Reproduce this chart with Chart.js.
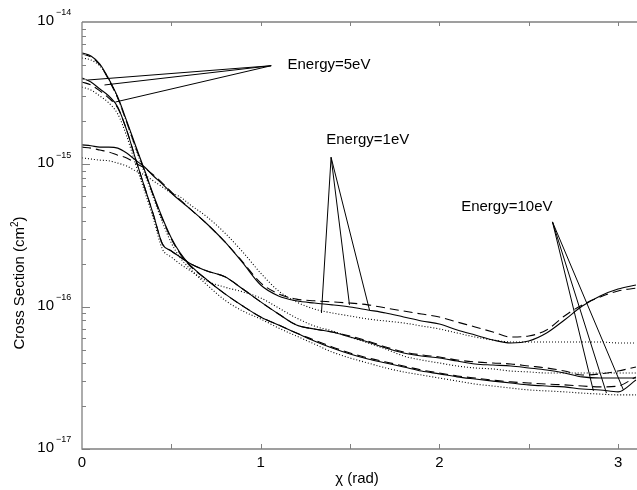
<!DOCTYPE html>
<html><head><meta charset="utf-8">
<script src="https://cdn.jsdelivr.net/npm/chart.js@4.4.1/dist/chart.umd.min.js"></script>
<style>html,body{margin:0;padding:0;background:#fff;}#wrap{width:637px;height:490px;}</style>
</head><body><div id="wrap"><canvas id="c" width="637" height="490"></canvas></div>
<script>
// scattering angle chi (rad)
const chi = [0,0.05,0.1,0.15,0.2,0.25,0.3,0.35,0.4,0.45,0.5,0.55,0.6,0.7,0.8,0.9,1.0,1.1,1.2,1.3,1.4,1.5,1.6,1.7,1.8,1.9,2.0,2.1,2.2,2.3,2.4,2.5,2.6,2.7,2.8,2.9,3.0,3.1];

// Energy = 1 eV
const e1Solid  = [1.37e-15,1.35e-15,1.32e-15,1.32e-15,1.30e-15,1.20e-15,1.07e-15,9.58e-16,8.28e-16,7.27e-16,6.29e-16,5.53e-16,4.93e-16,3.81e-16,2.85e-16,2.03e-16,1.42e-16,1.19e-16,1.10e-16,1.06e-16,1.03e-16,9.95e-17,9.48e-17,9.03e-17,8.46e-17,7.93e-17,7.56e-17,6.86e-17,6.32e-17,5.83e-17,5.56e-17,5.74e-17,6.53e-17,8.06e-17,1.01e-16,1.19e-16,1.33e-16,1.42e-16];
const e1Dashed = [1.32e-15,1.30e-15,1.26e-15,1.22e-15,1.16e-15,1.11e-15,1.02e-15,9.42e-16,8.41e-16,7.39e-16,6.39e-16,5.62e-16,4.93e-16,3.81e-16,2.85e-16,2.06e-16,1.47e-16,1.23e-16,1.13e-16,1.10e-16,1.08e-16,1.06e-16,1.03e-16,9.79e-17,9.32e-17,8.88e-17,8.46e-17,7.80e-17,7.20e-17,6.64e-17,6.12e-17,6.22e-17,6.86e-17,8.60e-17,1.03e-16,1.17e-16,1.29e-16,1.35e-16];
const e1Dotted = [1.11e-15,1.09e-15,1.07e-15,1.06e-15,1.02e-15,9.73e-16,8.98e-16,8.41e-16,7.64e-16,6.93e-16,6.29e-16,5.90e-16,5.26e-16,4.27e-16,3.29e-16,2.42e-16,1.72e-16,1.29e-16,1.08e-16,9.63e-17,9.03e-17,8.60e-17,8.19e-17,7.93e-17,7.68e-17,7.32e-17,6.97e-17,6.53e-17,6.12e-17,5.83e-17,5.65e-17,5.65e-17,5.65e-17,5.65e-17,5.65e-17,5.65e-17,5.56e-17,5.56e-17];

// Energy = 5 eV
const e5Solid  = [4.04e-15,3.79e-15,3.38e-15,3.02e-15,2.53e-15,1.74e-15,1.09e-15,6.93e-16,4.41e-16,2.76e-16,2.46e-16,2.23e-16,2.03e-16,1.78e-16,1.62e-16,1.33e-16,1.08e-16,8.88e-17,7.43e-17,6.97e-17,6.64e-17,6.12e-17,5.65e-17,5.12e-17,4.73e-17,4.50e-17,4.36e-17,4.15e-17,3.96e-17,3.89e-17,3.83e-17,3.71e-17,3.59e-17,3.42e-17,3.21e-17,3.15e-17,3.15e-17,3.15e-17];
const e5Dashed = [3.79e-15,3.61e-15,3.28e-15,2.92e-15,2.49e-15,1.74e-15,1.09e-15,6.93e-16,4.41e-16,2.76e-16,2.46e-16,2.23e-16,2.03e-16,1.78e-16,1.62e-16,1.33e-16,1.08e-16,8.88e-17,7.43e-17,6.97e-17,6.64e-17,6.22e-17,5.74e-17,5.21e-17,4.80e-17,4.58e-17,4.43e-17,4.22e-17,4.09e-17,4.02e-17,3.96e-17,3.83e-17,3.71e-17,3.53e-17,3.31e-17,3.37e-17,3.53e-17,3.77e-17];
const e5Dotted = [3.49e-15,3.33e-15,3.02e-15,2.70e-15,2.26e-15,1.58e-15,1.00e-15,6.50e-16,4.13e-16,2.54e-16,2.23e-16,1.99e-16,1.81e-16,1.51e-16,1.37e-16,1.27e-16,1.15e-16,9.79e-17,8.33e-17,7.32e-17,6.75e-17,6.12e-17,5.56e-17,5.04e-17,4.50e-17,4.22e-17,4.02e-17,3.83e-17,3.71e-17,3.65e-17,3.53e-17,3.48e-17,3.42e-17,3.42e-17,3.42e-17,3.42e-17,3.42e-17,3.42e-17];

// Energy = 10 eV
const e10Solid  = [6.06e-15,5.77e-15,5.07e-15,3.98e-15,2.97e-15,2.02e-15,1.35e-15,9.12e-16,6.09e-16,4.20e-16,3.04e-16,2.38e-16,1.99e-16,1.54e-16,1.23e-16,1.01e-16,8.46e-17,7.43e-17,6.53e-17,5.74e-17,5.12e-17,4.65e-17,4.29e-17,4.02e-17,3.77e-17,3.53e-17,3.37e-17,3.21e-17,3.10e-17,3.00e-17,2.91e-17,2.82e-17,2.77e-17,2.73e-17,2.64e-17,2.60e-17,2.52e-17,3.05e-17];
const e10Dashed = [5.96e-15,5.68e-15,4.99e-15,3.91e-15,2.92e-15,1.98e-15,1.32e-15,8.98e-16,5.99e-16,4.13e-16,2.99e-16,2.34e-16,1.96e-16,1.54e-16,1.23e-16,1.01e-16,8.46e-17,7.43e-17,6.53e-17,5.83e-17,5.21e-17,4.73e-17,4.36e-17,4.09e-17,3.83e-17,3.59e-17,3.42e-17,3.26e-17,3.15e-17,3.05e-17,2.96e-17,2.91e-17,2.86e-17,2.82e-17,2.77e-17,2.73e-17,2.77e-17,3.21e-17];
const e10Dotted = [5.59e-15,5.41e-15,4.91e-15,3.98e-15,2.92e-15,1.98e-15,1.30e-15,8.69e-16,5.80e-16,3.93e-16,2.80e-16,2.20e-16,1.87e-16,1.42e-16,1.11e-16,9.32e-17,8.19e-17,7.08e-17,6.22e-17,5.47e-17,4.80e-17,4.36e-17,4.02e-17,3.71e-17,3.48e-17,3.31e-17,3.15e-17,3.00e-17,2.86e-17,2.77e-17,2.68e-17,2.60e-17,2.56e-17,2.52e-17,2.47e-17,2.43e-17,2.40e-17,2.40e-17];

// annotation pointers (data coordinates)
const annLabels = ['Energy=5eV','Energy=1eV','Energy=10eV'];
const annTipX = [1.059, 1.394, 2.633];
const annTipY = [4.93e-15, 1.12e-15, 3.94e-16];
const annEndX = [[0.031,0.126,0.187],[1.340,1.497,1.609],[2.862,2.935,3.030]];
const annEndY = [[3.91e-15,3.61e-15,2.74e-15],[9.03e-17,1.03e-16,9.47e-17],[2.56e-17,2.47e-17,2.60e-17]];
const annLabelX = [1.150, 1.367, 2.122];
const annLabelY = [4.96e-15, 1.48e-15, 5.01e-16];

// tick labels
const xTickValues = [0,1,2,3];
const xTickLabels = ['0','1','2','3'];
const yDecadeExponents = [-17,-16,-15,-14];
const xTitle = 'χ (rad)';
const yTitleMain = 'Cross Section (cm';
const yTitleSup = '2';

const FONT = '"Liberation Sans", Arial, Helvetica, sans-serif';
const solidStyle = [], dashStyle = [9,5], dotStyle = [1,2];

function curve(ys, dash) {
  return { data: chi.map((x,i)=>({x, y: ys[i]})), borderColor:'#000', borderWidth:1.1,
    borderDash: dash, pointRadius:0, fill:false, cubicInterpolationMode:'monotone' };
}
const datasets = [
  curve(e1Solid, solidStyle), curve(e1Dashed, dashStyle), curve(e1Dotted, dotStyle),
  curve(e5Solid, solidStyle), curve(e5Dashed, dashStyle), curve(e5Dotted, dotStyle),
  curve(e10Solid, solidStyle), curve(e10Dashed, dashStyle), curve(e10Dotted, dotStyle)
];
for (let g = 0; g < annTipX.length; g++) {
  for (let k = 0; k < annEndX[g].length; k++) {
    datasets.push({ data:[{x:annTipX[g], y:annTipY[g]},{x:annEndX[g][k], y:annEndY[g][k]}],
      borderColor:'#000', borderWidth:1, pointRadius:0, fill:false, tension:0 });
  }
}

const decor = {
  id:'decor',
  afterDraw(chart) {
    const {ctx, chartArea:a, scales:{x, y}} = chart;
    ctx.save();
    // axes frame (left, bottom, top)
    ctx.strokeStyle = '#808080'; ctx.lineWidth = 1.3;
    ctx.beginPath();
    ctx.moveTo(a.left, a.top); ctx.lineTo(a.right, a.top);
    ctx.moveTo(a.left, a.top); ctx.lineTo(a.left, a.bottom); ctx.lineTo(a.right, a.bottom);
    ctx.stroke();
    ctx.lineWidth = 1;
    ctx.beginPath();
    for (let v = 0.5; v <= x.max; v += 0.5) {
      const px = Math.round(x.getPixelForValue(v)) + 0.5;
      ctx.moveTo(px, a.bottom); ctx.lineTo(px, a.bottom - 5);
      ctx.moveTo(px, a.top); ctx.lineTo(px, a.top + 4);
    }
    for (let e = yDecadeExponents[0]; e < yDecadeExponents[yDecadeExponents.length-1]; e++) {
      for (let m = 1; m < 10; m++) {
        const py = Math.round(y.getPixelForValue(m * Math.pow(10, e))) + 0.5;
        const len = m === 1 ? 8 : 4;
        ctx.moveTo(a.left, py); ctx.lineTo(a.left + len, py);
      }
    }
    ctx.stroke();
    // tick labels
    ctx.fillStyle = '#000';
    ctx.font = '15px ' + FONT; ctx.textAlign = 'center'; ctx.textBaseline = 'top';
    xTickValues.forEach((v,i)=>{ ctx.fillText(xTickLabels[i], x.getPixelForValue(v), a.bottom + 6); });
    yDecadeExponents.forEach(e=>{
      const py = y.getPixelForValue(Math.pow(10, e));
      ctx.font = '15px ' + FONT; ctx.textAlign = 'right'; ctx.textBaseline = 'middle';
      ctx.fillText('10', 54, py - 1);
      ctx.font = '9px ' + FONT; ctx.textAlign = 'left';
      ctx.fillText('\u2212' + String(-e), 56, py - 9);
    });
    // axis titles
    ctx.font = '15px ' + FONT; ctx.textAlign = 'center'; ctx.textBaseline = 'middle';
    ctx.fillText(xTitle, 357, 479);
    ctx.save();
    ctx.translate(24, 283); ctx.rotate(-Math.PI/2);
    ctx.font = '15px ' + FONT;
    const w1 = ctx.measureText(yTitleMain).width;
    ctx.font = '10px ' + FONT;
    const w2 = ctx.measureText(yTitleSup).width;
    ctx.font = '15px ' + FONT;
    const w3 = ctx.measureText(')').width;
    let sx = -(w1 + w2 + w3) / 2;
    ctx.textAlign = 'left'; ctx.textBaseline = 'alphabetic';
    ctx.fillText(yTitleMain, sx, 0);
    ctx.font = '10px ' + FONT; ctx.fillText(yTitleSup, sx + w1, -6);
    ctx.font = '15px ' + FONT; ctx.fillText(')', sx + w1 + w2, 0);
    ctx.restore();
    // energy labels
    ctx.font = '15px ' + FONT; ctx.textAlign = 'left'; ctx.textBaseline = 'middle';
    annLabels.forEach((t,i)=>{ ctx.fillText(t, x.getPixelForValue(annLabelX[i]), y.getPixelForValue(annLabelY[i])); });
    ctx.restore();
  }
};

new Chart(document.getElementById('c'), {
  type:'line',
  data:{ datasets },
  options:{
    responsive:false, animation:false, events:[],
    layout:{ padding:{ top:22, right:0, left:0, bottom:0 } },
    plugins:{ legend:{display:false}, tooltip:{enabled:false} },
    scales:{
      x:{ type:'linear', min:0, max:3.106, grid:{display:false}, border:{display:false},
          ticks:{display:false}, afterFit(s){ s.height = 41; } },
      y:{ type:'logarithmic', min:1e-17, max:1e-14, grid:{display:false}, border:{display:false},
          ticks:{display:false}, afterFit(s){ s.width = 82; } }
    }
  },
  plugins:[decor]
});
</script>
</body></html>
